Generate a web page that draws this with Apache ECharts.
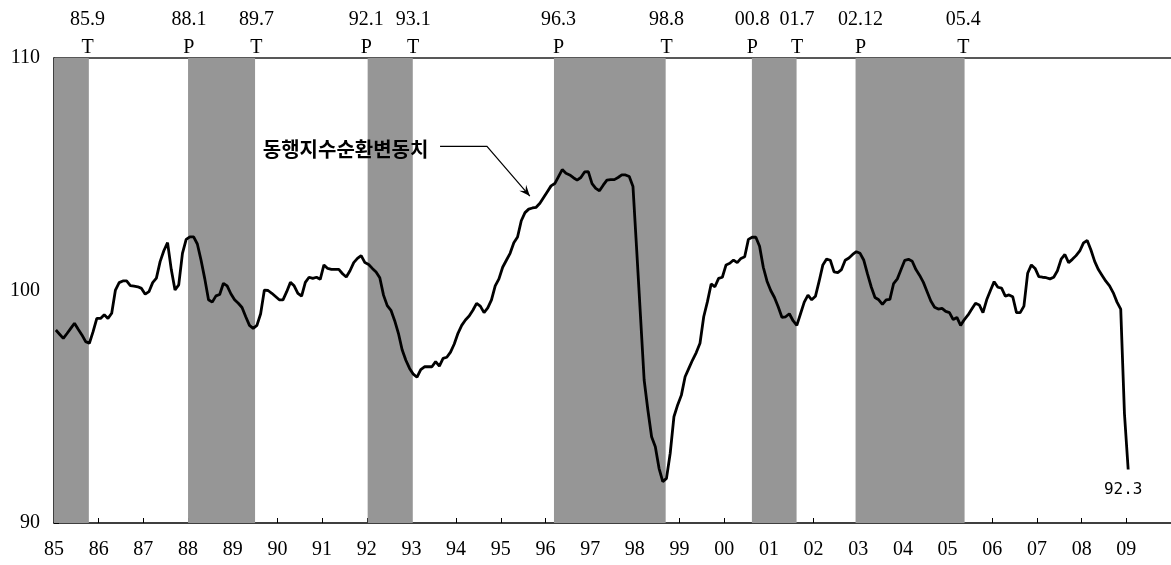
<!DOCTYPE html>
<html>
<head>
<meta charset="utf-8">
<script src="https://cdn.jsdelivr.net/npm/echarts@6/dist/echarts.min.js"></script>
<style>html,body{margin:0;padding:0;background:#fff;}#chart{width:1171px;height:565px;}</style>
</head>
<body>
<div id="chart"></div>
<script>
// monthly series, Jan 1985 .. Jan 2009
const startYear = 1985;
const cycleValues = [
  98.30, 98.12, 97.94, 98.15, 98.37, 98.59, 98.33, 98.09, 97.80, 97.73, 98.23, 98.80,
  98.80, 98.96, 98.80, 99.02, 100.02, 100.34, 100.41, 100.41, 100.21, 100.19, 100.16, 100.09,
  99.84, 99.95, 100.34, 100.53, 101.24, 101.71, 102.06, 100.90, 100.02, 100.24, 101.60, 102.20,
  102.31, 102.31, 102.00, 101.30, 100.50, 99.60, 99.50, 99.77, 99.83, 100.31, 100.20, 99.86,
  99.60, 99.45, 99.27, 98.87, 98.50, 98.37, 98.50, 99.00, 100.02, 100.00, 99.88, 99.74,
  99.60, 99.60, 99.95, 100.35, 100.20, 99.88, 99.76, 100.35, 100.57, 100.52, 100.57, 100.48,
  101.10, 100.95, 100.91, 100.91, 100.91, 100.72, 100.58, 100.85, 101.20, 101.38, 101.50, 101.20,
  101.12, 100.95, 100.80, 100.55, 99.80, 99.35, 99.15, 98.70, 98.16, 97.45, 97.00, 96.65,
  96.40, 96.27, 96.60, 96.72, 96.72, 96.72, 96.94, 96.75, 97.08, 97.13, 97.35, 97.70,
  98.16, 98.50, 98.73, 98.90, 99.15, 99.45, 99.33, 99.05, 99.25, 99.60, 100.20, 100.50,
  101.00, 101.30, 101.60, 102.05, 102.30, 103.00, 103.35, 103.50, 103.55, 103.58, 103.75, 104.00,
  104.25, 104.50, 104.60, 104.90, 105.20, 105.04, 104.97, 104.85, 104.75, 104.86, 105.10, 105.11,
  104.60, 104.39, 104.29, 104.53, 104.75, 104.77, 104.77, 104.86, 104.97, 104.97, 104.90, 104.47,
  101.74, 98.95, 96.15, 94.86, 93.71, 93.28, 92.35, 91.78, 91.92, 93.00, 94.57, 95.08,
  95.50, 96.29, 96.65, 97.01, 97.33, 97.73, 98.87, 99.52, 100.28, 100.16, 100.52, 100.57,
  101.10, 101.17, 101.31, 101.20, 101.38, 101.45, 102.20, 102.29, 102.29, 101.90, 101.00, 100.40,
  100.00, 99.70, 99.30, 98.85, 98.87, 99.00, 98.70, 98.50, 99.00, 99.50, 99.80, 99.60,
  99.75, 100.40, 101.10, 101.35, 101.30, 100.80, 100.77, 100.90, 101.30, 101.40, 101.55, 101.67,
  101.60, 101.30, 100.70, 100.15, 99.70, 99.60, 99.40, 99.60, 99.62, 100.30, 100.50, 100.90,
  101.30, 101.34, 101.26, 100.90, 100.65, 100.35, 99.95, 99.55, 99.28, 99.20, 99.23, 99.10,
  99.05, 98.75, 98.84, 98.50, 98.75, 98.95, 99.20, 99.45, 99.38, 99.05, 99.60, 100.00,
  100.38, 100.14, 100.10, 99.76, 99.81, 99.73, 99.05, 99.05, 99.33, 100.74, 101.10, 100.95,
  100.60, 100.57, 100.55, 100.50, 100.57, 100.85, 101.35, 101.55, 101.20, 101.34, 101.50, 101.70,
  102.05, 102.15, 101.74, 101.25, 100.90, 100.65, 100.40, 100.20, 99.90, 99.50, 99.20, 94.70,
  92.30
];
// recession (peak -> trough) shaded bands, in years
const bandStart = [1985.00, 1988.00, 1992.02, 1996.19, 2000.62, 2002.94];
const bandEnd   = [1985.78, 1989.50, 1993.03, 1998.69, 2001.62, 2005.38];
// turning point labels
const eventDates = ['85.9', '88.1', '89.7', '92.1', '93.1', '96.3', '98.8', '00.8', '01.7', '02.12', '05.4'];
const eventTypes = ['T', 'P', 'T', 'P', 'T', 'P', 'T', 'P', 'T', 'P', 'T'];
const eventPos   = [1985.75, 1988.02, 1989.53, 1991.99, 1993.04, 1996.29, 1998.71, 2000.63, 2001.63, 2003.05, 2005.35];
const yTicks = [90, 100, 110];
const seriesName = '동행지수순환변동치';
const lastLabel = '92.3';
// annotation anchors (data coords)
const annoText = [1993.38, 106.05];
const annoArrow = [[1993.64, 106.2], [1994.69, 106.2], [1995.65, 104.06]];

const lineData = cycleValues.map((v, i) => [startYear + (i + 0.5) / 12, v]);
const serif = '"Liberation Serif", "Times New Roman", serif';
const chart = echarts.init(document.getElementById('chart'));

chart.setOption({
  animation: false,
  grid: { left: 54, right: 0, top: 58, bottom: 42 },
  xAxis: [{
    type: 'value', min: 1985, max: 2010, interval: 1, position: 'bottom',
    axisLine: { onZero: false, lineStyle: { color: '#000', width: 1.5 } },
    axisTick: { inside: true, length: 5, lineStyle: { color: '#000', width: 1 } },
    axisLabel: {
      fontFamily: serif, fontSize: 20, color: '#000', margin: 17, showMaxLabel: false,
      formatter: v => String(Math.round(v) % 100).padStart(2, '0')
    },
    splitLine: { show: false }
  }, {
    type: 'value', min: 1985, max: 2010, position: 'top',
    axisLine: { show: true, onZero: false, lineStyle: { color: '#222', width: 1.5 } },
    axisTick: { show: false }, axisLabel: { show: false }, splitLine: { show: false }
  }],
  yAxis: {
    type: 'value', min: yTicks[0], max: yTicks[yTicks.length - 1], interval: 10,
    axisLine: { show: true, onZero: false, lineStyle: { color: '#000', width: 1.5 } },
    axisTick: { show: true, inside: true, length: 5, lineStyle: { color: '#000' } },
    axisLabel: { fontFamily: serif, fontSize: 20, color: '#000', margin: 14 },
    splitLine: { show: false }
  },
  series: [{
    name: seriesName,
    type: 'line', data: lineData, symbol: 'none', z: 5,
    lineStyle: { color: '#000', width: 2.8 },
    markArea: {
      silent: true,
      itemStyle: { color: '#969696', opacity: 1 },
      data: bandStart.map((s, i) => [{ xAxis: s }, { xAxis: bandEnd[i] }])
    },
    markPoint: {
      symbol: 'circle', symbolSize: 0, silent: true,
      data: [{ coord: lineData[lineData.length - 1], value: lastLabel }],
      label: {
        show: true, formatter: lastLabel, position: 'inside', offset: [-5, 20],
        fontFamily: '"DejaVu Sans Mono", monospace', fontSize: 16, color: '#000'
      }
    }
  }]
});

function px(pt) { return chart.convertToPixel({ xAxisIndex: 0, yAxisIndex: 0 }, pt); }
const graphics = [];
eventPos.forEach((p, i) => {
  const x = chart.convertToPixel({ xAxisIndex: 0 }, p);
  graphics.push({ type: 'text', z: 100, x: x, y: 20, style: { text: eventDates[i], font: '20px ' + serif, fill: '#000', textAlign: 'center', textVerticalAlign: 'middle' } });
  graphics.push({ type: 'text', z: 100, x: x, y: 48, style: { text: eventTypes[i], font: '20px ' + serif, fill: '#000', textAlign: 'center', textVerticalAlign: 'middle' } });
});
const tp = px(annoText);
graphics.push({ type: 'text', z: 100, x: tp[0], y: tp[1], style: { text: seriesName, font: 'bold 20px "Noto Sans CJK KR"', fill: '#000', textAlign: 'right', textVerticalAlign: 'middle' } });
const ap = annoArrow.map(px);
graphics.push({ type: 'polyline', z: 100, shape: { points: ap }, style: { stroke: '#000', lineWidth: 1.2, fill: null } });
const a = ap[ap.length - 1], b = ap[ap.length - 2];
const dx = a[0] - b[0], dy = a[1] - b[1], len = Math.hypot(dx, dy);
const ux = dx / len, uy = dy / len, L = 11, W = 4.5;
graphics.push({ type: 'polygon', z: 100, shape: { points: [
  a,
  [a[0] - ux * L - uy * W, a[1] - uy * L + ux * W],
  [a[0] - ux * L * 0.6, a[1] - uy * L * 0.6],
  [a[0] - ux * L + uy * W, a[1] - uy * L - ux * W]
] }, style: { fill: '#000' } });
chart.setOption({ graphic: graphics });
</script>
</body>
</html>
